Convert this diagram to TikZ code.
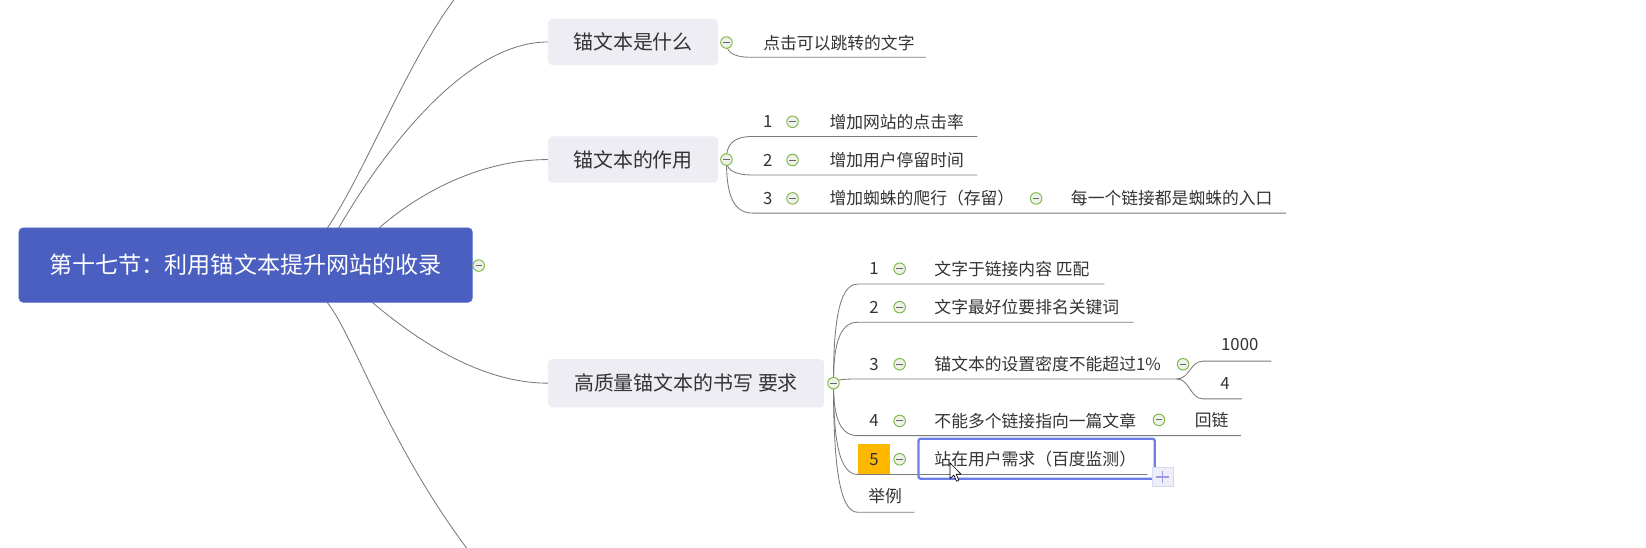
\documentclass[tikz,border=0pt]{standalone}
\usepackage{fontspec}
\setmainfont{Noto Sans CJK SC}
\usetikzlibrary{calc}
\definecolor{rootblue}{HTML}{4A5FBF}
\definecolor{rootedge}{HTML}{5D76D6}
\definecolor{boxgray}{HTML}{EDEDF3}
\definecolor{linegray}{HTML}{7A7A7A}
\definecolor{txt}{HTML}{333333}
\definecolor{btngreen}{HTML}{7DB843}
\definecolor{btnfill}{HTML}{EEF2EA}
\definecolor{selblue}{HTML}{6B7FE6}
\definecolor{tagorange}{HTML}{FFB800}
\definecolor{plusfill}{HTML}{EEEEF6}
\definecolor{plusline}{HTML}{9B9BE3}
\begin{document}
\begin{tikzpicture}[x=1pt,y=-1pt,
 rootbox/.style={draw=rootedge, fill=rootblue, rounded corners=4pt, text=white, font=\fontsize{22}{26}\selectfont, minimum width=432pt, minimum height=71pt, inner sep=0},
 topicbox/.style={fill=boxgray, rounded corners=4pt, text=txt, font=\fontsize{19}{23}\selectfont, minimum height=44pt, inner sep=0},
 leaf/.style={anchor=west, inner sep=0, text=txt, font=\fontsize{16}{19}\selectfont},
 numlabel/.style={inner sep=0, text=txt, font=\fontsize{16}{19}\selectfont},
 btn/.style={circle, draw=btngreen, fill=btnfill, line width=0.9pt, minimum size=11pt, inner sep=0,
   path picture={\draw[line width=0.9pt, draw=black!60] ([xshift=-3pt]path picture bounding box.center) -- ([xshift=3pt]path picture bounding box.center);}},
 link/.style={draw=linegray, line width=0.8pt},
 fanline/.style={to path={let \p1=(\tikztostart), \p2=(\tikztotarget) in .. controls (\x1, {\y1+0.55*(\y2-\y1)}) and ({\x1+4pt}, \y2) .. (\tikztotarget)}},
 forkline/.style={to path={.. controls +(12,0) and +(-12,0) .. (\tikztotarget)}},
]
\useasboundingbox (0,0) rectangle (1568,522);
\fill[white] (0,0) rectangle (1568,522);
\clip (0,0) rectangle (1568,522);

\coordinate (r0) at (310,220);
\coordinate (rA) at (321,220);
\coordinate (rB) at (358,220);
\coordinate (rC) at (351,285);
\coordinate (rD) at (309,285);
\coordinate (topend) at (447,-18);
\coordinate (botend) at (452,532);

\coordinate (Aw) at (522,40);
\coordinate (Bw) at (522,152);
\coordinate (Cw) at (522,365);

% root connectors
\draw[link] (r0) .. controls +(40,-58) and +(-52,57) .. (topend);
\draw[link] (rA) .. controls +(39,-68) and +(-82,0) .. (Aw);
\draw[link] (rB) .. controls +(42,-38) and +(-62,0) .. (Bw);
\draw[link] (rC) .. controls +(49,42) and +(-62,0) .. (Cw);
\draw[link] (rD) .. controls +(26,27) and +(-85,-110) .. (botend);

% ---------- A branch ----------
\coordinate (oA) at (692,40.5);
\coordinate (uA0) at (716,54.6);
\coordinate (uA1) at (882,54.6);
\draw[link] (oA) to[fanline] (uA0) -- (uA1);

% ---------- B branch ----------
\coordinate (oB) at (692,152);
\coordinate (uB1) at (717,130);   \coordinate (uB1e) at (931,130);
\coordinate (uB2) at (717,166.7); \coordinate (uB2e) at (931,166.7);
\coordinate (uB3) at (717,203);   \coordinate (uB3e) at (1225,203);
\draw[link] (oB) to[fanline] (uB1) -- (uB1e);
\draw[link] (oB) to[fanline] (uB2) -- (uB2e);
\draw[link] (oB) to[fanline] (uB3) -- (uB3e);

% ---------- C branch ----------
\coordinate (oC) at (794,365);
\coordinate (uC1) at (817,270.6); \coordinate (uC1e) at (1052,270.6);
\coordinate (uC2) at (817,307);   \coordinate (uC2e) at (1080,307);
\coordinate (uC3) at (817,361);   \coordinate (uC3e) at (1121,361);
\coordinate (uC4) at (817,415);   \coordinate (uC4e) at (1182,415);
\coordinate (uC5) at (817,452);   \coordinate (uC5e) at (1093,452);
\coordinate (uC6) at (817,488);   \coordinate (uC6e) at (871,488);
\coordinate (uK1) at (1146,344);  \coordinate (uK1e) at (1211,344);
\coordinate (uK2) at (1146,380);  \coordinate (uK2e) at (1183,380);
\draw[link] (oC) to[fanline] (uC1) -- (uC1e);
\draw[link] (oC) to[fanline] (uC2) -- (uC2e);
\draw[link] (oC) to[fanline] (uC3) -- (uC3e);
\draw[link] (oC) to[fanline] (uC4) -- (uC4e);
\draw[link] (oC) to[fanline] (uC5) -- (uC5e);
\draw[link] (oC) to[fanline] (uC6) -- (uC6e);
\draw[link] (uC3e) to[forkline] (uK1) -- (uK1e);
\draw[link] (uC3e) to[forkline] (uK2) -- (uK2e);

% ---------- boxes ----------
\node[rootbox] (root) at (234,252.5) {第十七节：利用锚文本提升网站的收录};
\node[topicbox, minimum width=162pt] (A) at (603,40) {锚文本是什么};
\node[topicbox, minimum width=162pt] (B) at (603,152) {锚文本的作用};
\node[topicbox, minimum width=263pt, minimum height=46pt] (C) at (653.5,365) {高质量锚文本的书写 要求};

% buttons
\node[btn] (broot) at (456,253) {};
\node[btn] (bA) at (oA) {};
\node[btn] (bB) at (oB) {};
\node[btn] (bC) at (oC) {};

% A child
\node[leaf] (tA) at (727,40.6) {点击可以跳转的文字};

% B children
\node[numlabel] (nB1) at (731.5,116) {1};
\node[numlabel] (nB2) at (731.5,152.4) {2};
\node[numlabel] (nB3) at (731.5,189) {3};
\node[btn] (bB1) at (755,116) {};
\node[btn] (bB2) at (755,152.4) {};
\node[btn] (bB3) at (755,189) {};
\node[leaf] (tB1) at (790,116) {增加网站的点击率};
\node[leaf] (tB2) at (790,152.4) {增加用户停留时间};
\node[leaf] (tB3) at (790,189) {增加蜘蛛的爬行（存留）};
\node[btn] (bB3s) at (987,189) {};
\node[leaf] (tB3a) at (1020,189) {每一个链接都是蜘蛛的入口};

% C children
\node[numlabel] (nC1) at (832.5,256) {1};
\node[numlabel] (nC2) at (832.5,292.6) {2};
\node[numlabel] (nC3) at (832.5,347) {3};
\node[numlabel] (nC4) at (832.5,401) {4};
\node[fill=tagorange, minimum width=31pt, minimum height=29pt, inner sep=0, text=txt, font=\fontsize{16}{19}\selectfont] (nC5) at (832.5,437.5) {5};
\node[btn] (bC1) at (857,256) {};
\node[btn] (bC2) at (857,292.6) {};
\node[btn] (bC3) at (857,347) {};
\node[btn] (bC4) at (857,401) {};
\node[btn] (bC5) at (857,437.5) {};
\node[leaf] (tC1) at (890,256) {文字于链接内容 匹配};
\node[leaf] (tC2) at (890,292.6) {文字最好位要排名关键词};
\node[leaf] (tC3) at (890,347) {锚文本的设置密度不能超过1\%};
\node[btn] (bC3s) at (1127,347) {};
\node[numlabel] (tK1) at (1181,328) {1000};
\node[numlabel] (tK2) at (1167,365) {4};
\node[leaf] (tC4) at (890,401) {不能多个链接指向一篇文章};
\node[btn] (bC4s) at (1104,400) {};
\node[leaf] (tC4a) at (1138,400) {回链};
\node[draw=selblue, line width=2.2pt, rounded corners=2pt, minimum width=225pt, minimum height=38pt, inner sep=0] (sel) at (987.5,437) {};
\node[leaf] (tC5) at (890,437.5) {站在用户需求（百度监测）};
\node[fill=plusfill, draw=plusline!40, line width=0.5pt, minimum width=20pt, minimum height=18pt, inner sep=0,
  path picture={\draw[plusline, line width=1.6pt] ([xshift=-6pt]path picture bounding box.center) -- ([xshift=6pt]path picture bounding box.center) ([yshift=-6pt]path picture bounding box.center) -- ([yshift=6pt]path picture bounding box.center);}] (plus) at (1107.5,454.5) {};
\node[leaf] (tC6) at (827,473) {举例};

% mouse cursor
\draw[fill=white, draw=black, line width=0.6pt, line join=round, shift={(905,441)}]
  (0,0) -- (0,15) -- (3.6,11.6) -- (6.2,17.4) -- (8.4,16.4) -- (5.9,10.8) -- (10.6,10.8) -- cycle;
\end{tikzpicture}
\end{document}
